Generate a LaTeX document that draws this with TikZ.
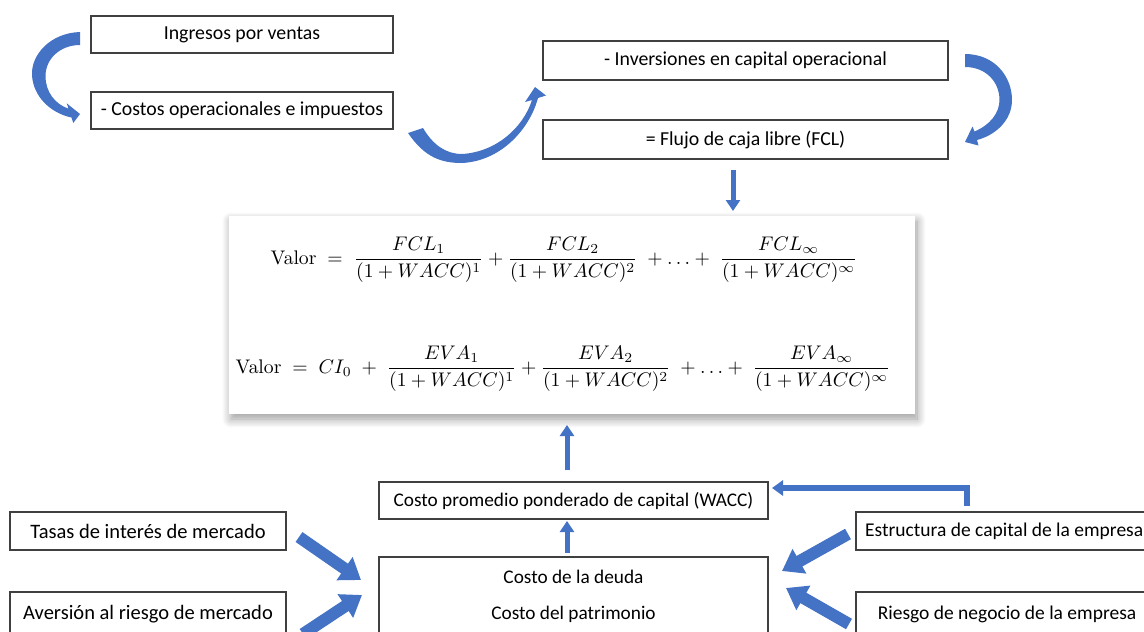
\documentclass[tikz,border=0pt]{standalone}
\usepackage{amsmath}
\usepackage[no-math]{fontspec}
\setmainfont{Carlito}
\usetikzlibrary{arrows.meta,shadows.blur}
\definecolor{arrowblue}{RGB}{68,114,196}
\definecolor{boxline}{RGB}{64,64,64}
\begin{document}
\begin{tikzpicture}[x=1pt,y=-1pt,
  txtbox/.style={draw=boxline,line width=1.1pt,fill=white,inner sep=0pt,
    minimum height=37pt,font=\fontsize{19.8}{23}\selectfont},
  sidefont/.style={font=\fontsize{20.5}{24}\selectfont},
  rightfont/.style={font=\fontsize{19.5}{23}\selectfont},
  midfont/.style={font=\fontsize{19.3}{23}\selectfont},
  fat/.style={arrowblue,line width=12pt,-{Triangle[length=20pt,width=27pt]}},
  thinarrow/.style={arrowblue,line width=5pt,-{Triangle[length=11pt,width=14pt]}},
  blockfill/.style={fill=arrowblue},
  formula/.style={scale=1.97,inner sep=0pt}
]
\useasboundingbox (0,0) rectangle (1144,632);
\clip (0,0) rectangle (1144,632);

% top boxes
\node[txtbox,minimum width=302pt] (ing) at (242,34.5) {Ingresos por ventas};
\node[txtbox,minimum width=302pt] (cop) at (242,110.5) {- Costos operacionales e impuestos};
\node[txtbox,minimum width=405pt,minimum height=39pt] (inv) at (745.5,60.5) {- Inversiones en capital operacional};
\node[txtbox,minimum width=405pt,minimum height=39pt] (fcl) at (745.5,139.5) {= Flujo de caja libre (FCL)};

% formula box
\node[draw=none,fill=white,minimum width=686pt,minimum height=198pt,
  blur shadow={shadow xshift=2pt,shadow yshift=-5pt,shadow blur radius=9pt,shadow blur steps=12}] (F) at (572,315) {};
\node[formula] (f1) at (564,260) {$\displaystyle \mathrm{Valor}\;=\;\frac{FCL_1}{(1+WACC)^1}+\frac{FCL_2}{(1+WACC)^2}\;+\ldots+\;\frac{FCL_\infty}{(1+WACC)^\infty}$};
\node[formula] (f2) at (563,369) {$\displaystyle \mathrm{Valor}\;=\;CI_0\;+\;\frac{EVA_1}{(1+WACC)^1}+\frac{EVA_2}{(1+WACC)^2}\;+\ldots+\;\frac{EVA_\infty}{(1+WACC)^\infty}$};

% bottom boxes
\node[txtbox,midfont,minimum width=389pt] (wacc) at (573.5,500.5) {Costo promedio ponderado de capital (WACC)};
\node[txtbox,minimum width=389pt,minimum height=90pt] (costos) at (573.5,602) {};
\node[midfont] (cd) at (573.5,577) {Costo de la deuda};
\node[midfont] (cp) at (573.5,614) {Costo del patrimonio};
\node[txtbox,sidefont,minimum width=276pt,minimum height=38pt] (tasas) at (148,531) {Tasas de interés de mercado};
\node[txtbox,sidefont,minimum width=276pt,minimum height=44pt] (avers) at (148,614) {Aversión al riesgo de mercado};
\node[txtbox,minimum width=302pt,minimum height=38pt] (estr) at (1007,531) {};
\node[rightfont,anchor=west,inner sep=0pt] (estrtxt) at (865,531) {Estructura de capital de la empresa};
\node[txtbox,rightfont,minimum width=302pt,minimum height=44pt] (riesgo) at (1007,614) {Riesgo de negocio de la empresa};

% curved block arrows
\fill[blockfill] (80,32) .. controls (50,33) and (31,55) .. (32,75) .. controls (33,96) and (50,113) .. (71.5,117.5) -- (73.3,123) -- (80,114) -- (66.7,103.3) -- (68.5,108.7) .. controls (55,104) and (45.5,92) .. (45.5,76) .. controls (45.5,59) and (60,45) .. (80,45) -- cycle;
\fill[blockfill] (408,133) .. controls (425,158) and (442,163) .. (462,163) .. controls (502,161) and (530,128) .. (538,98) -- (546,95.5) -- (535,87) -- (525,102) -- (532,100) .. controls (523,128) and (496,152) .. (462,154) .. controls (446,154) and (433,145) .. (423,128) -- cycle;
\fill[blockfill] (965,54) .. controls (995,54) and (1012,77) .. (1012,100) .. controls (1012,120) and (996,135) .. (977,140) -- (978.5,145.5) -- (965,142) -- (972.5,126.5) -- (974.5,131.5) .. controls (990,125) and (999.5,113) .. (999.5,100) .. controls (999.5,82) and (986,67) .. (965,67) -- cycle;

% straight arrows
\coordinate (fdown) at (733,170);
\coordinate (fdownend) at (733,211);
\draw[thinarrow] (fdown) -- (fdownend);
\coordinate (wup) at (567,470);
\coordinate (wupend) at (567,425);
\draw[thinarrow] (wup) -- (wupend);
\coordinate (cup) at (567,553);
\coordinate (cupend) at (567,521);
\draw[thinarrow] (cup) -- (cupend);
\coordinate (elb) at (967,506);
\coordinate (elbend) at (772,488);
\draw[arrowblue,line width=6pt,-{Triangle[length=11pt,width=15pt]}] (elb) |- (elbend);

\coordinate (a1s) at (299,537);
\coordinate (a1e) at (361,580);
\draw[fat] (a1s) -- (a1e);
\coordinate (a2s) at (303,634);
\coordinate (a2e) at (362,595);
\draw[fat] (a2s) -- (a2e);
\coordinate (a3s) at (848,534);
\coordinate (a3e) at (782,571);
\draw[fat] (a3s) -- (a3e);
\coordinate (a4s) at (849,624);
\coordinate (a4e) at (786,588);
\draw[fat] (a4s) -- (a4e);
\end{tikzpicture}
\end{document}
